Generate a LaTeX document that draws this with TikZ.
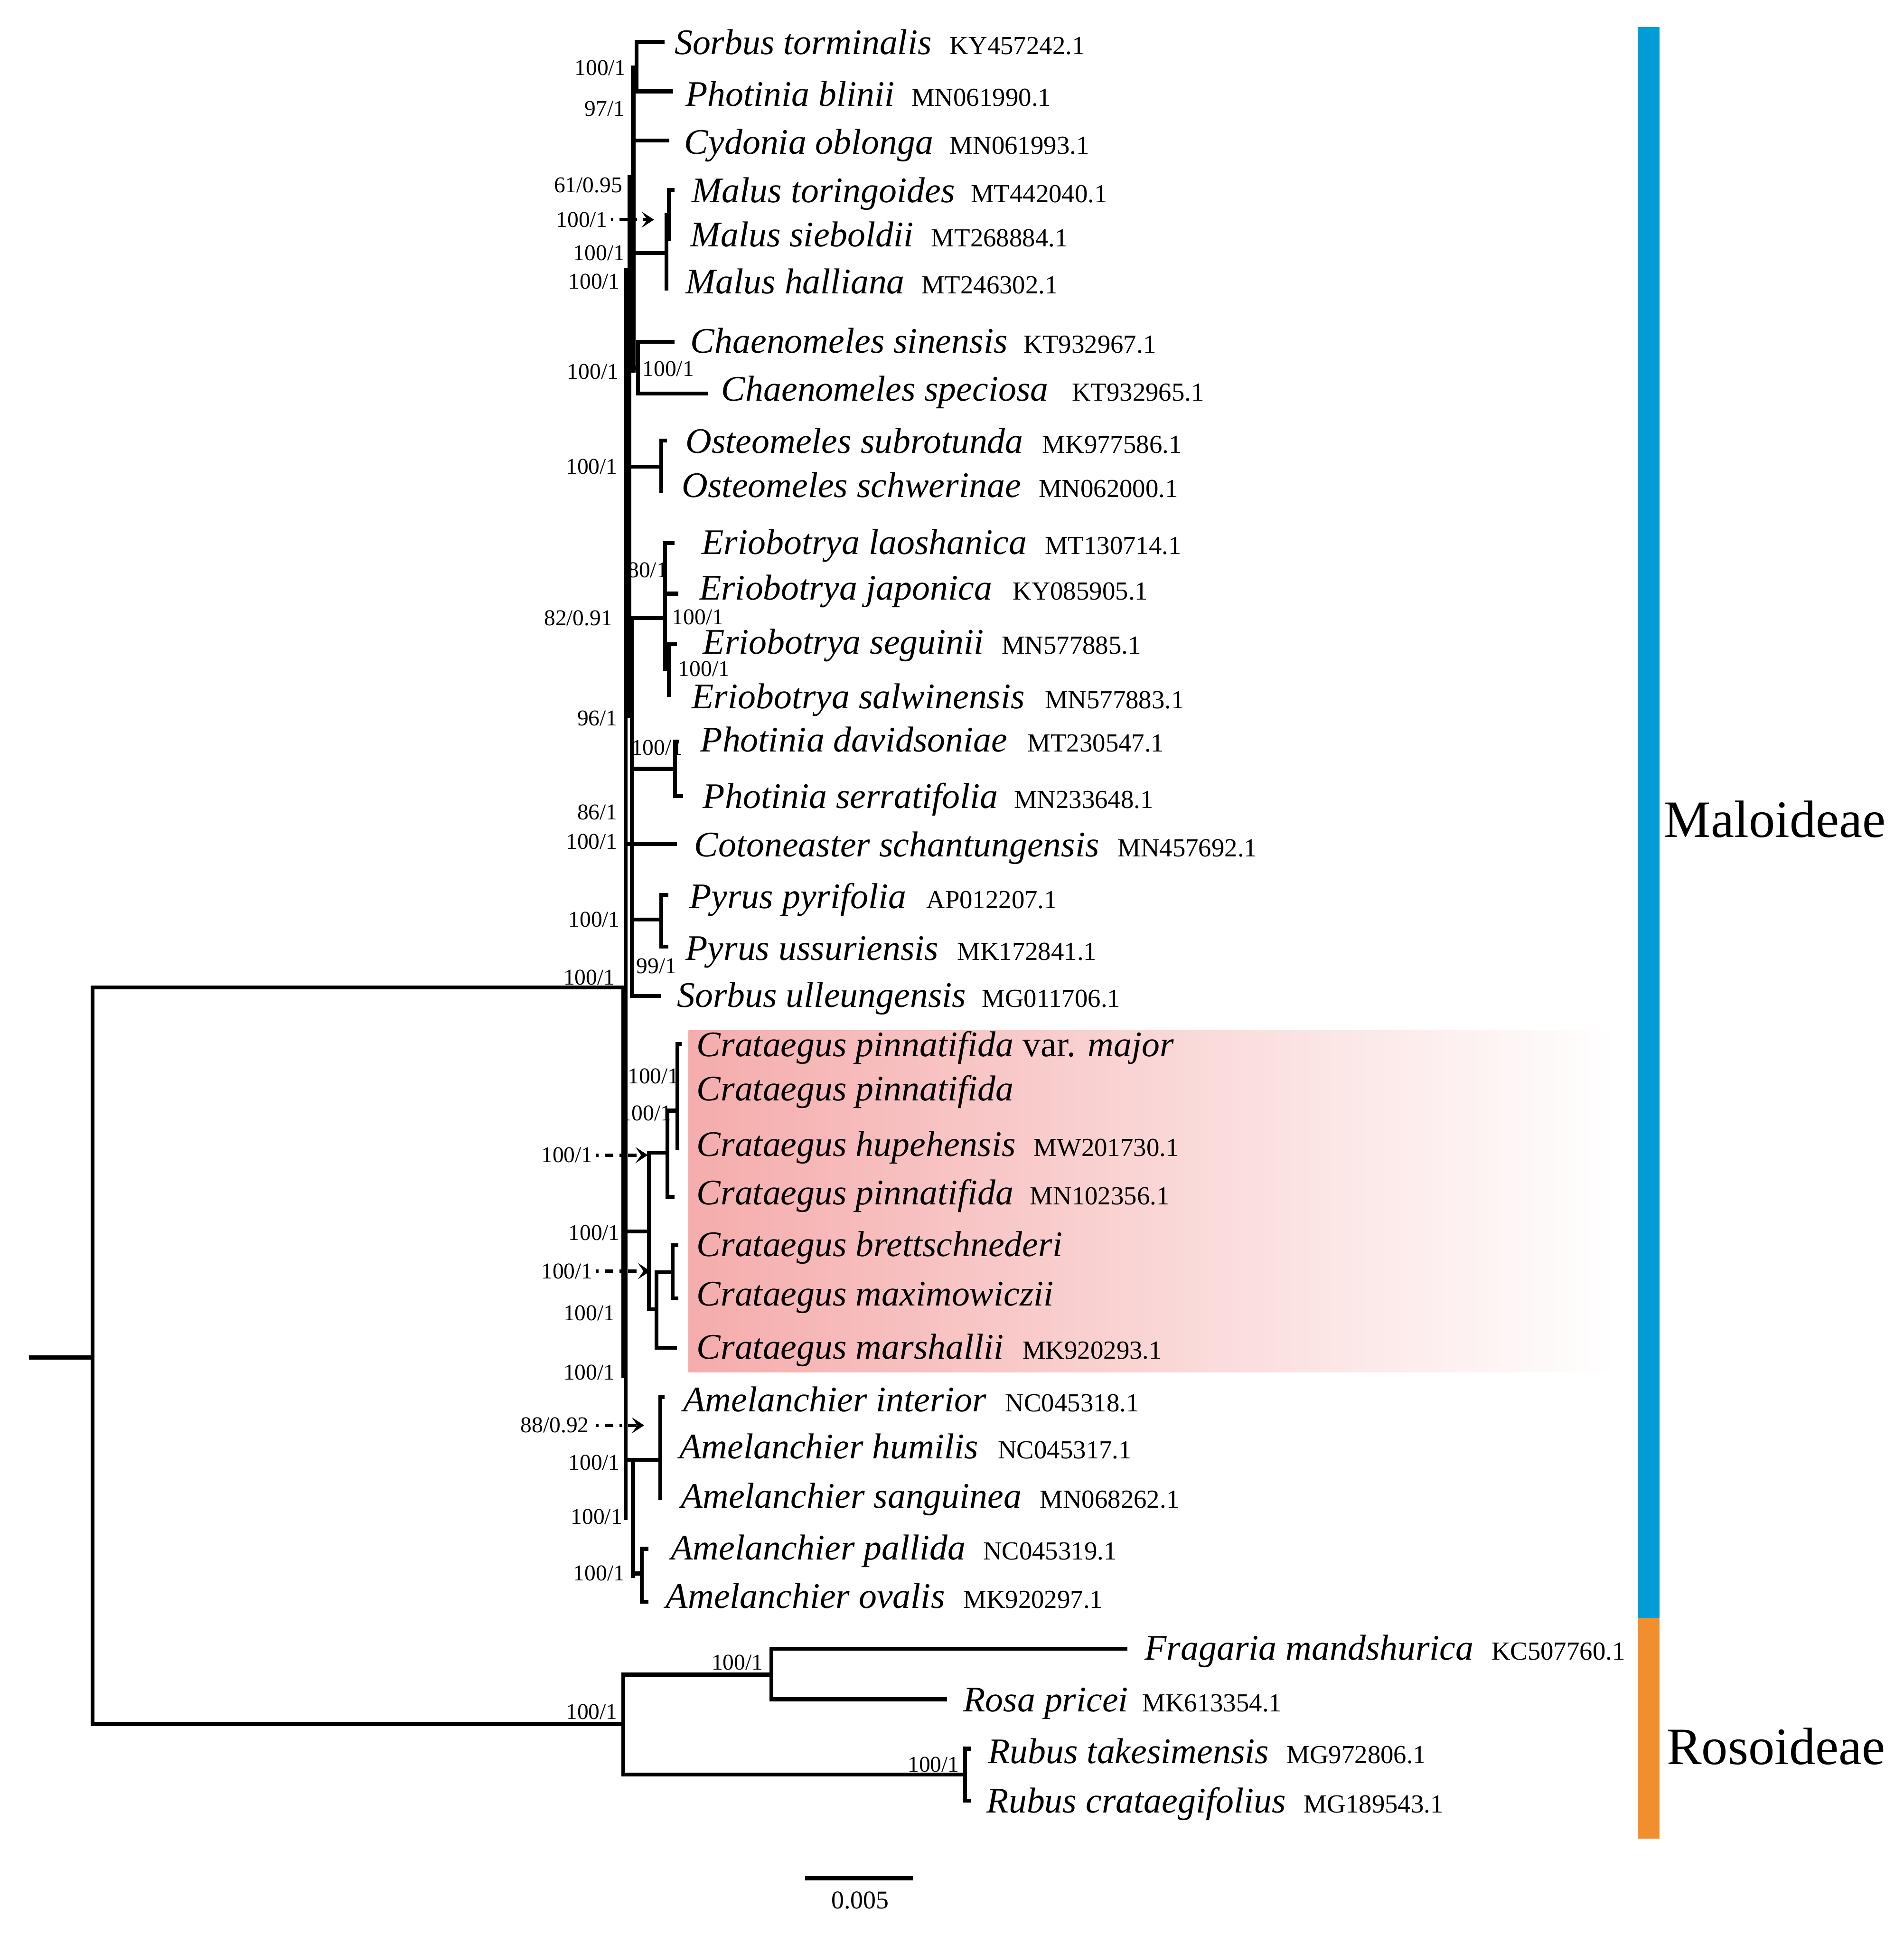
\documentclass[tikz,border=0pt]{standalone}
\usepackage{fontspec}
\setmainfont{Liberation Serif}
\usetikzlibrary{arrows.meta}
\definecolor{mblue}{RGB}{0,156,216}
\definecolor{rorange}{RGB}{241,143,46}
\definecolor{cpink}{RGB}{245,172,172}
\begin{document}
\begin{tikzpicture}[x=0.1mm, y=-0.1mm,
  br/.style={line width=0.9pt, line cap=rect, line join=miter},
  nm/.style={inner sep=0pt, anchor=base west, font=\fontsize{8.3}{9}\selectfont\itshape},
  acc/.style={inner sep=0pt, anchor=base west, font=\fontsize{6}{7}\selectfont},
  bs/.style={inner sep=0pt, font=\fontsize{5.2}{6}\selectfont},
  clade/.style={inner sep=0pt, font=\fontsize{12.1}{14}\selectfont},
  arr/.style={line width=0.8pt, dash pattern=on 0.6pt off 1.4pt on 2pt off 1.4pt, -{Stealth[length=1mm,width=1.3mm,inset=0.45mm]}}]
\useasboundingbox (0,0) rectangle (1543,1568);

% highlight
\shade[left color=cpink, right color=white, shading angle=90] (558,835) rectangle (1310,1112);

% clade bars
\fill[mblue] (1327,22) rectangle (1345,1311);
\fill[rorange] (1327,1311) rectangle (1345,1490);
\node[clade, anchor=west] (malo) at (1348,664) {Maloideae};
\node[clade, anchor=west] (roso) at (1350,1415) {Rosoideae};

% root and subfamilies
\draw[br] (25,1100) -- (75,1100);
\draw[br] (505,800) -| (75,1397) -- (505,1397);
\draw[br] (625,1357) -| (505,1438) -- (782,1438);
\draw[br] (912,1336) -| (625,1377) -- (766,1377);
\draw[br] (785,1417) -| (782,1459) -- (785,1459);

% Maloideae backbone
\draw[br, line width=1.1pt] (513,55) -- (513,300);
\draw[br] (510,143) -- (510,580);
\draw[br] (507,219) -- (507,1230);
\draw[br] (512,501) -- (512,807);
\draw[br] (505,800) -- (505,1115);
\draw[br] (513,1183) -- (513,1277);

% upper clades
\draw[br] (537,34) -| (516,74) -- (544,74);
\draw[br] (513,55) -- (516,55);
\draw[br] (513,114) -- (541,114);
\draw[br] (513,205) -- (540,205);
\draw[br] (540,174) -- (540,234);
\draw[br] (540,174) -- (542,174);
\draw[br] (545,154) -| (542,194);
\draw[br] (507,298) -- (517,298);
\draw[br] (545,277) -| (517,319) -- (572,319);
\draw[br] (507,378) -- (536,378);
\draw[br] (539,357) -| (536,398);
\draw[br] (510,501) -- (539,501);
\draw[br] (545,440) -| (539,542) -- (542,542);
\draw[br] (539,481) -- (548,481);
\draw[br] (547,522) -| (542,563);
\draw[br] (512,623) -- (547,623);
\draw[br] (549,601) -| (547,645) -- (552,645);
\draw[br] (507,684) -- (547,684);
\draw[br] (512,745) -- (536,745);
\draw[br] (540,725) -| (536,767) -- (540,767);
\draw[br] (512,807) -- (534,807);

% Crataegus
\draw[br] (505,998) -- (526,998);
\draw[br] (541,934) -| (526,1061) -- (532,1061);
\draw[br] (549,900) -| (541,970) -- (545,970);
\draw[br] (551,846) -| (549,930);
\draw[br] (545,1031) -| (532,1092) -- (547,1092);
\draw[br] (548,1009) -| (545,1052) -- (548,1052);

% Amelanchier
\draw[br] (507,1183) -- (535,1183);
\draw[br] (537,1132) -| (535,1214);
\draw[br] (513,1275) -- (520,1275);
\draw[br] (524,1255) -| (520,1298) -- (524,1298);

% scale bar
\coordinate (sb1) at (654,1522);
\coordinate (sb2) at (738,1522);
\draw[br] (sb1) -- (sb2);
\node[bs, font=\fontsize{5.9}{7}\selectfont] (sbl) at (697,1540) {0.005};

% taxon names
\foreach \nx/\ny/\nm [count=\i] in {
546/36/{Sorbus torminalis},
555/78/{Photinia blinii},
554/117/{Cydonia oblonga},
560/156/{Malus toringoides},
559/192/{Malus sieboldii},
555/230/{Malus halliana},
559/278/{Chaenomeles sinensis},
584/317/{Chaenomeles speciosa},
555/359/{Osteomeles subrotunda},
552/395/{Osteomeles schwerinae},
568/441/{Eriobotrya laoshanica},
566/478/{Eriobotrya japonica},
569/522/{Eriobotrya seguinii},
560/566/{Eriobotrya salwinensis},
567/601/{Photinia davidsoniae},
569/647/{Photinia serratifolia},
562/686/{Cotoneaster schantungensis},
558/728/{Pyrus pyrifolia},
555/770/{Pyrus ussuriensis},
548/808/{Sorbus ulleungensis},
564/848/{Crataegus pinnatifida \textup{var.} major},
564/884/{Crataegus pinnatifida},
564/929/{Crataegus hupehensis},
564/968/{Crataegus pinnatifida},
564/1010/{Crataegus brettschnederi},
564/1050/{Crataegus maximowiczii},
564/1093/{Crataegus marshallii},
553/1136/{Amelanchier interior},
550/1174/{Amelanchier humilis},
551/1214/{Amelanchier sanguinea},
543/1256/{Amelanchier pallida},
539/1295/{Amelanchier ovalis},
927/1337/{Fragaria mandshurica},
780/1379/{Rosa pricei},
800/1421/{Rubus takesimensis},
799/1461/{Rubus crataegifolius}}
{\node[nm] (n\i) at (\nx,\ny+8) {\nm};}

% accession numbers
\foreach \ax/\ay/\ac [count=\i] in {
769/36/KY457242.1, 738/78/MN061990.1, 769/117/MN061993.1,
786/156/MT442040.1, 754/192/MT268884.1, 746/230/MT246302.1,
829/278/KT932967.1, 868/317/KT932965.1, 844/359/MK977586.1,
841/395/MN062000.1, 846/441/MT130714.1, 820/478/KY085905.1,
811/522/MN577885.1, 846/566/MN577883.1, 832/601/MT230547.1,
821/647/MN233648.1, 905/686/MN457692.1, 750/728/AP012207.1,
775/770/MK172841.1, 795/808/MG011706.1, 837/929/MW201730.1,
834/968/MN102356.1, 828/1093/MK920293.1, 814/1136/NC045318.1,
808/1174/NC045317.1, 842/1214/MN068262.1, 796/1256/NC045319.1,
780/1295/MK920297.1, 1208/1337/KC507760.1, 925/1379/MK613354.1,
1042/1421/MG972806.1, 1056/1461/MG189543.1}
{\node[acc] (a\i) at (\ax,\ay+8) {\ac};}

% support values, left of nodes
\foreach \sx/\sy/\st [count=\i] in {
508/55/100\slash 1, 507/88/97\slash 1, 505/150/61\slash 0.95,
507/205/100\slash 1, 503/228/100\slash 1, 502/301/100\slash 1,
501/378/100\slash 1, 497/501/82\slash 0.91, 501/582/96\slash 1,
501/658/86\slash 1, 501/682/100\slash 1, 503/745/100\slash 1,
499/792/100\slash 1, 503/999/100\slash 1, 499/1064/100\slash 1,
499/1112/100\slash 1, 503/1185/100\slash 1, 505/1229/100\slash 1,
507/1275/100\slash 1, 501/1387/100\slash 1, 619/1347/100\slash 1,
778/1430/100\slash 1}
{\node[bs, anchor=east] (sl\i) at (\sx,\sy) {\st};}

% support values, right of nodes
\foreach \sx/\sy/\st [count=\i] in {
520/299/100\slash 1, 508/462/80\slash 1, 544/500/100\slash 1,
549/542/100\slash 1, 511/606/100\slash 1, 515/783/99\slash 1,
508/872/100\slash 1, 502/902/100\slash 1}
{\node[bs, anchor=west] (sr\i) at (\sx,\sy) {\st};}

% support values with pointer arrows
\node[bs, anchor=east] (p1) at (493,178) {100/1};
\node[bs, anchor=east] (p2) at (481,936) {100/1};
\node[bs, anchor=east] (p3) at (481,1030) {100/1};
\node[bs, anchor=east] (p4) at (478,1155) {88/0.92};
\coordinate (q1) at (530,178);
\coordinate (q2) at (525,936);
\coordinate (q3) at (527,1030);
\coordinate (q4) at (522,1155);
\draw[arr] (p1.east) ++(2,0) -- (q1);
\draw[arr] (p2.east) ++(2,0) -- (q2);
\draw[arr] (p3.east) ++(2,0) -- (q3);
\draw[arr] (p4.east) ++(5,0) -- (q4);
\end{tikzpicture}
\end{document}
